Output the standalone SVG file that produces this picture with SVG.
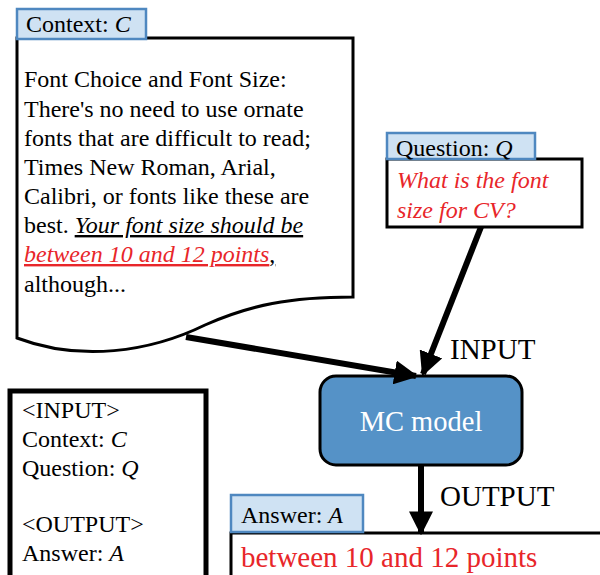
<svg xmlns="http://www.w3.org/2000/svg" width="600" height="575" viewBox="0 0 600 575">
<defs>
<style>
text{font-family:"Liberation Serif","Times New Roman",serif;fill:#000}
.t{font-size:24px}
.red{fill:#e8262a}
.lab{fill:#cfe2f3;stroke:#4f88c0;stroke-width:2.5}
.box{fill:#fff;stroke:#000;stroke-width:3}
.con{stroke:#000;stroke-width:6;fill:none}
</style>
<marker id="ah" viewBox="0 0 10 10" refX="9" refY="5" markerWidth="4" markerHeight="4" orient="auto" markerUnits="strokeWidth">
<path d="M0,0 L10,5 L0,10 Z" fill="#000"/>
</marker>
</defs>
<g id="context">
<path class="box" d="M17,38 L353,38 L353,297 C290,297 250,305 205,325 C150,352 80,362 17,338 Z"/>
<rect class="lab" x="17" y="9" width="129" height="30"/>
<text class="t" x="26" y="32">Context: <tspan font-style="italic">C</tspan></text>
<text class="t" x="24" y="87">Font Choice and Font Size:</text>
<text class="t" x="24" y="117">There's no need to use ornate</text>
<text class="t" x="24" y="146">fonts that are difficult to read;</text>
<text class="t" x="24" y="175">Times New Roman, Arial,</text>
<text class="t" x="24" y="204">Calibri, or fonts like these are</text>
<text class="t" x="24" y="233">best. <tspan font-style="italic" text-decoration="underline">Your font size should be</tspan></text>
<text class="t" x="24" y="262"><tspan font-style="italic" text-decoration="underline" style="fill:#e8262a">between 10 and 12 points</tspan><tspan text-decoration="underline">,</tspan></text>
<text class="t" x="24" y="292">although...</text>
</g>
<g id="question">
<rect class="box" x="387" y="159" width="195" height="68"/>
<rect class="lab" x="387" y="133" width="148" height="26"/>
<text class="t" x="396" y="156">Question: <tspan font-style="italic">Q</tspan></text>
<text class="t red" x="397" y="188" font-style="italic">What is the font</text>
<text class="t red" x="397" y="218" font-style="italic">size for CV?</text>
</g>
<g id="mc-model">
<rect x="320" y="376" width="202" height="89" rx="16" fill="#5592c7" stroke="#000" stroke-width="3"/>
<text x="421" y="431" font-size="28.5" text-anchor="middle" style="fill:#fff">MC model</text>
</g>
<g id="answer">
<path d="M231,575 L231,533 L600,533" fill="none" stroke="#000" stroke-width="3"/>
<rect class="lab" x="231" y="495" width="132" height="37"/>
<text class="t" x="241" y="523">Answer: <tspan font-style="italic">A</tspan></text>
<text class="red" x="241" y="567" font-size="29">between 10 and 12 points</text>
</g>
<g id="legend">
<rect x="10" y="391" width="196" height="200" fill="#fff" stroke="#000" stroke-width="5"/>
<text class="t" x="22" y="418">&lt;INPUT&gt;</text>
<text class="t" x="22" y="447">Context: <tspan font-style="italic">C</tspan></text>
<text class="t" x="22" y="476">Question: <tspan font-style="italic">Q</tspan></text>
<text class="t" x="22" y="532">&lt;OUTPUT&gt;</text>
<text class="t" x="22" y="561">Answer: <tspan font-style="italic">A</tspan></text>
</g>
<g id="connectors">
<line class="con" x1="186" y1="337" x2="416" y2="376" marker-end="url(#ah)"/>
<line class="con" x1="481" y1="227" x2="423" y2="374" marker-end="url(#ah)"/>
<line class="con" x1="421" y1="465" x2="421" y2="533" marker-end="url(#ah)"/>
<text x="450" y="359" font-size="29">INPUT</text>
<text x="440" y="506" font-size="29">OUTPUT</text>
</g>
</svg>
